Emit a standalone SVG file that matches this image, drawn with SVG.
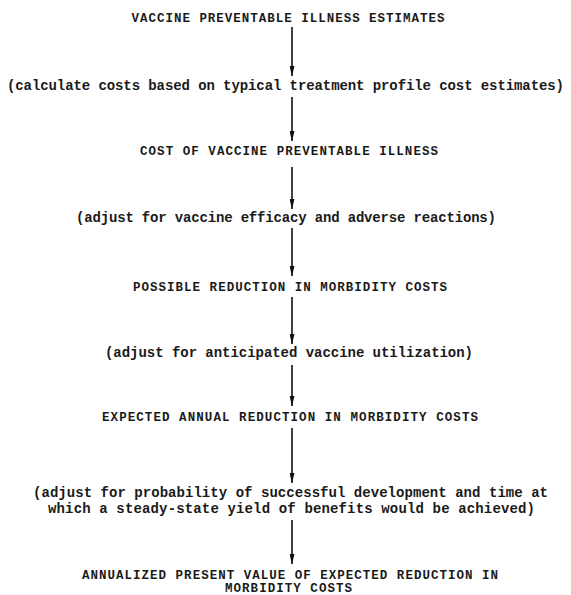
<svg xmlns="http://www.w3.org/2000/svg" width="571" height="595" viewBox="0 0 571 595">
  <defs>
    <marker id="head" viewBox="0 0 10 5" refX="10" refY="2.5" markerWidth="10" markerHeight="5" markerUnits="userSpaceOnUse" orient="auto">
      <path d="M0,0 L10,2.5 L0,5 Z" fill="#111"/>
    </marker>
    <style>
      .t { font-family: "Liberation Mono", "Courier New", monospace; fill: #1a1a1a; text-anchor: middle; font-weight: bold; }
      .cap { font-size: 12.5px; }
      .low { font-size: 14px; }
      .arrow { stroke: #111; stroke-width: 1.6; fill: none; marker-end: url(#head); }
    </style>
  </defs>
  <rect width="571" height="595" fill="#fff"/>

  <g id="connectors">
    <line class="arrow" x1="292" y1="27" x2="292" y2="76"/>
    <line class="arrow" x1="292" y1="97" x2="292" y2="141"/>
    <line class="arrow" x1="292" y1="167" x2="292" y2="209"/>
    <line class="arrow" x1="292" y1="228" x2="292" y2="276"/>
    <line class="arrow" x1="292" y1="297" x2="292" y2="344"/>
    <line class="arrow" x1="292" y1="365" x2="292" y2="406"/>
    <line class="arrow" x1="292" y1="428" x2="292" y2="483"/>
    <line class="arrow" x1="292" y1="520" x2="292" y2="564"/>
  </g>

  <g id="illness-estimates">
    <text class="t cap" x="288" y="22" textLength="313" lengthAdjust="spacing">VACCINE PREVENTABLE ILLNESS ESTIMATES</text>
  </g>
  <g id="step-treatment-costs">
    <text class="t low" x="285.5" y="90" textLength="557" lengthAdjust="spacing">(calculate costs based on typical treatment profile cost estimates)</text>
  </g>
  <g id="illness-cost">
    <text class="t cap" x="289" y="155" textLength="298" lengthAdjust="spacing">COST OF VACCINE PREVENTABLE ILLNESS</text>
  </g>
  <g id="step-efficacy">
    <text class="t low" x="286" y="222" textLength="420" lengthAdjust="spacing">(adjust for vaccine efficacy and adverse reactions)</text>
  </g>
  <g id="possible-reduction">
    <text class="t cap" x="290" y="291" textLength="314" lengthAdjust="spacing">POSSIBLE REDUCTION IN MORBIDITY COSTS</text>
  </g>
  <g id="step-utilization">
    <text class="t low" x="289" y="357" textLength="368" lengthAdjust="spacing">(adjust for anticipated vaccine utilization)</text>
  </g>
  <g id="expected-reduction">
    <text class="t cap" x="290" y="421" textLength="376" lengthAdjust="spacing">EXPECTED ANNUAL REDUCTION IN MORBIDITY COSTS</text>
  </g>
  <g id="step-development">
    <text class="t low" x="290.5" y="497" textLength="515" lengthAdjust="spacing">(adjust for probability of successful development and time at</text>
    <text class="t low" x="291.5" y="513" textLength="487" lengthAdjust="spacing">which a steady-state yield of benefits would be achieved)</text>
  </g>
  <g id="present-value">
    <text class="t cap" x="290" y="579" textLength="416" lengthAdjust="spacing">ANNUALIZED PRESENT VALUE OF EXPECTED REDUCTION IN</text>
    <text class="t cap" x="288.5" y="592" textLength="127" lengthAdjust="spacing">MORBIDITY COSTS</text>
  </g>
</svg>
